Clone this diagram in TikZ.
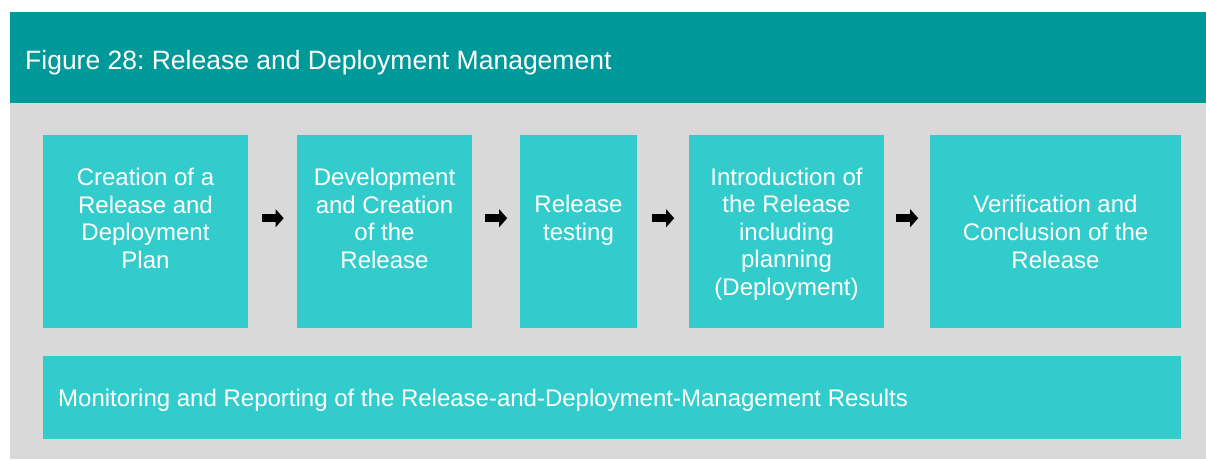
\documentclass[tikz,border=0pt]{standalone}
\usepackage{fontspec}
\setmainfont{Liberation Sans}
\frenchspacing
\usetikzlibrary{calc,arrows.meta}
\definecolor{headteal}{HTML}{009999}
\definecolor{boxteal}{HTML}{33CCCC}
\definecolor{panelgray}{HTML}{D9D9D9}
\tikzset{
  stepbox/.style={fill=boxteal, draw=none, inner sep=0pt, anchor=north west},
  boxtext/.style={text=white, align=center, font=\fontsize{24}{27.6}\selectfont, inner sep=0pt},
  arr/.style={line width=8.5pt, -{Triangle[length=8pt,width=17.5pt]}, black},
}
\begin{document}
\begin{tikzpicture}[x=1pt,y=-1pt]
\useasboundingbox (0,0) rectangle (1206,459);
\fill[panelgray] (10,103) rectangle (1206,459);
\node[fill=headteal, minimum width=1196pt, minimum height=91pt, inner sep=0pt, anchor=north west] (head) at (10,12) {};
\node[text=white, anchor=base west, inner sep=0pt, font=\fontsize{26.5}{30}\selectfont] (title) at (25,69) {Figure 28: Release and Deployment Management};
\node[stepbox, minimum width=205pt, minimum height=193pt] (b1) at (43,135) {};
\node[stepbox, minimum width=175pt, minimum height=193pt] (b2) at (297,135) {};
\node[stepbox, minimum width=117pt, minimum height=193pt] (b3) at (520,135) {};
\node[stepbox, minimum width=195pt, minimum height=193pt] (b4) at (689,135) {};
\node[stepbox, minimum width=251pt, minimum height=193pt] (b5) at (930,135) {};
\node[stepbox, minimum width=1138pt, minimum height=83pt] (b6) at (43,356) {};
\node[boxtext] (t1) at (145.5,218.5) {Creation of a\\Release and\\Deployment\\Plan};
\node[boxtext] (t2) at (384.5,218.5) {Development\\and Creation\\of the\\Release};
\node[boxtext] (t3) at (578.5,220.5) {Release\\testing};
\node[boxtext] (t4) at (786.5,234) {Introduction of\\the Release\\including\\planning\\(Deployment)};
\node[boxtext] (t5) at (1055.5,232) {Verification and\\Conclusion of the\\Release};
\node[boxtext, anchor=base west] (t6) at (58,406) {Monitoring and Reporting of the Release-and-Deployment-Management Results};
\foreach \a/\b [count=\i] in {b1/b2,b2/b3,b3/b4,b4/b5}{
  \coordinate (m\i) at ($(\a.east)!0.5!(\b.west)+(0,-13.5)$);
  \draw[arr] ([xshift=-11pt]m\i) -- ([xshift=11pt]m\i);
}
\end{tikzpicture}
\end{document}
